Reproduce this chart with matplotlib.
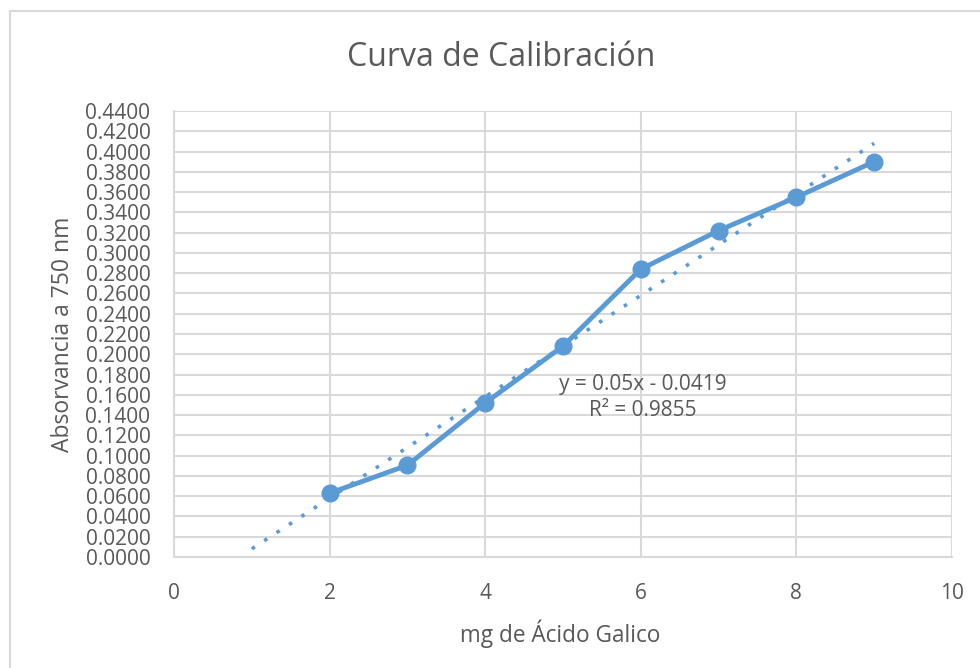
import matplotlib
matplotlib.use("Agg")
import matplotlib.pyplot as plt
from matplotlib.lines import Line2D
import numpy as np

plt.rcParams["font.family"] = ["Open Sans", "DejaVu Sans"]
BLUE, GRID, TXT = "#5B9BD5", "#D9D9D9", "#595959"

# ---------------- data ----------------
mg_galico = [2, 3, 4, 5, 6, 7, 8, 9]
absorb    = [0.0630, 0.0905, 0.1520, 0.2080, 0.2840, 0.3220, 0.3550, 0.3900]
trend_x   = [1, 9]                     # trendline span
slope, intercept, r2 = 0.05, -0.0419, 0.9855

fig = plt.figure(figsize=(9.8, 6.68), dpi=100)
ax = fig.add_axes([174 / 980, 1 - 557 / 668, 778 / 980, 446 / 668])

# chart border (only top/left visible in the reference)
fig.add_artist(Line2D([10 / 980, 10 / 980], [0, 1 - 11 / 668], color=GRID, lw=1.5))
fig.add_artist(Line2D([10 / 980, 1], [1 - 11 / 668, 1 - 11 / 668], color=GRID, lw=1.5))

tx = np.array(trend_x, dtype=float)
ax.plot(tx, slope * tx + intercept, color=BLUE, lw=2.6, ls=(0, (1, 3.1)),
        dash_capstyle="butt", zorder=3)
ax.plot(mg_galico, absorb, "-o", color=BLUE, lw=3.5, ms=12, zorder=4)

ax.set_xlim(0, 10)
ax.set_ylim(0, 0.44)
ax.set_xticks(np.arange(0, 11, 2))
yt = np.arange(0, 0.4401, 0.02)
ax.set_yticks(yt)
ax.set_yticklabels([f"{v:.4f}" for v in yt])
ax.grid(True, color=GRID, lw=1.5)
ax.set_axisbelow(True)
for s in ("top", "right"):
    ax.spines[s].set_visible(False)
for s in ("left", "bottom"):
    ax.spines[s].set_color(GRID)
    ax.spines[s].set_linewidth(1.5)
ax.tick_params(length=0, labelsize=15, colors=TXT)
ax.tick_params(axis="x", pad=19)
ax.tick_params(axis="y", pad=17)

ax.text(6.03, 0.1574, f"y = {slope}x - {abs(intercept)}\nR² = {r2}", ha="center",
        va="center", fontsize=15, color=TXT, linespacing=1.3)

ax.set_xlabel("mg de Ácido Galico", fontsize=16.3, color=TXT)
ax.set_ylabel("Absorvancia a 750 nm", fontsize=16.5, color=TXT)
ax.xaxis.set_label_coords(0.497, -0.141)
ax.yaxis.set_label_coords(-0.127, 0.5)
fig.text(501 / 980, 1 - 58 / 668, "Curva de Calibración", ha="center", va="center",
         fontsize=23, color=TXT)

fig.savefig("out.png", dpi=100)
